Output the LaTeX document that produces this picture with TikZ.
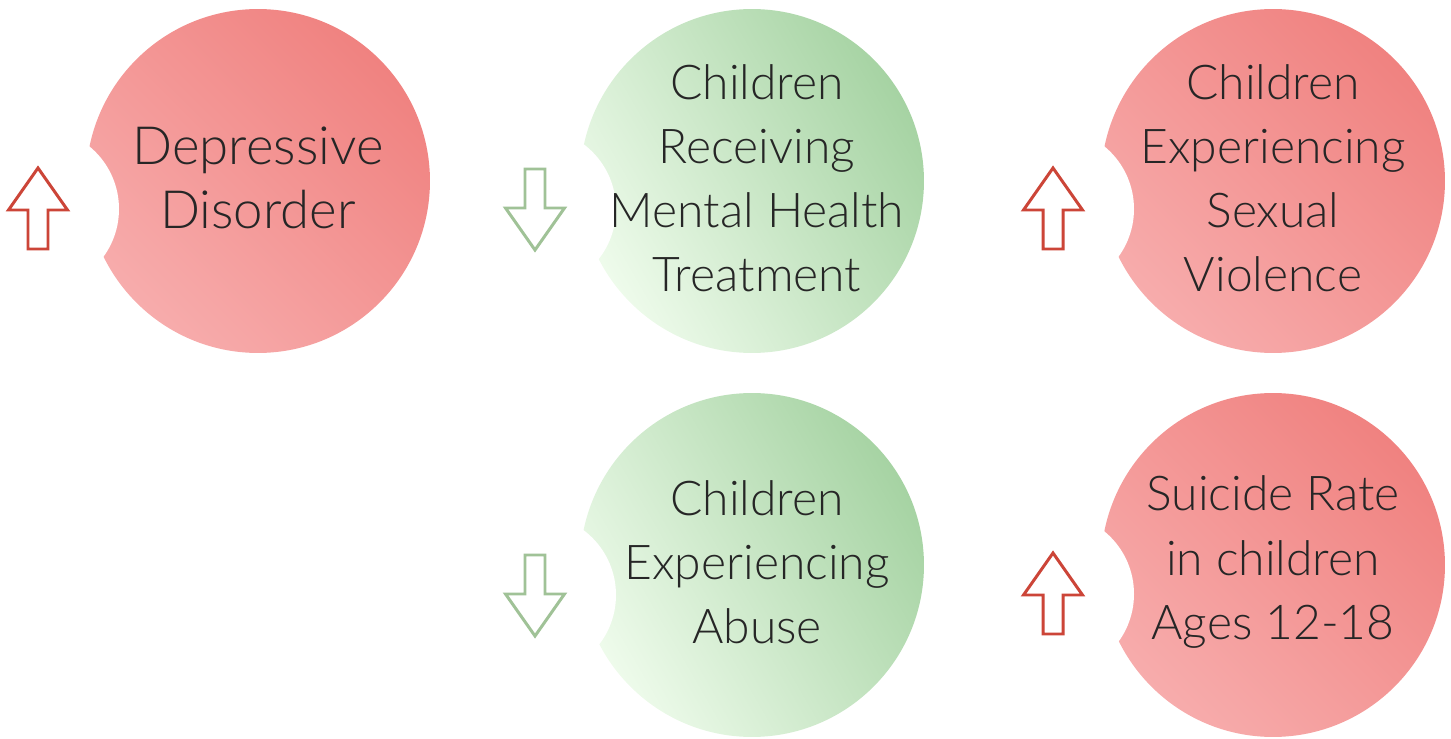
\documentclass[tikz,border=0pt]{standalone}
\usepackage{fontspec}
\setmainfont{Lato}[UprightFont=* Light]
\usetikzlibrary{calc}
\definecolor{BlobRedDark}{HTML}{F08280}
\definecolor{BlobRedLight}{HTML}{F7ACAC}
\definecolor{BlobGreenDark}{HTML}{A6D3A3}
\definecolor{BlobGreenLight}{HTML}{EEFBEB}
\definecolor{ArrowRed}{HTML}{CC4538}
\definecolor{ArrowGreen}{HTML}{A0C297}
\definecolor{TextGray}{HTML}{262626}

\begin{document}
\begin{tikzpicture}[
    x=0.02cm, y=0.02cm,
    blob/.style={
      circle,
      minimum size=6.88cm,
      inner sep=0pt
    },
    redblob/.style={
      blob,
      top color=BlobRedDark,
      bottom color=BlobRedLight,
      shading angle=-45
    },
    greenblob/.style={
      blob,
      top color=BlobGreenDark,
      bottom color=BlobGreenLight,
      shading angle=-60
    },
    blobtext/.style={
      align=center,
      inner sep=0pt,
      text=TextGray,
      font=\fontsize{27.3}{36.5}\selectfont
    },
    bigtext/.style={
      blobtext,
      font=\fontsize{30}{36.5}\selectfont
    },
    notch/.style={fill=white},
    fatarrow/.pic={
      \draw[pic actions, line width=1.7pt, line join=miter]
        (0,41) -- (29.5,-1) -- (10,-1) -- (10,-40) -- (-10,-40)
        -- (-10,-1) -- (-29.5,-1) -- cycle;
    }
  ]
  \useasboundingbox (0,0) rectangle (1451,738);

  % Top row
  \node[redblob] (dep) at (258,557) {};
  \node[greenblob] (treat) at (752,557) {};
  \node[redblob] (sexv) at (1273,557) {};

  % Bottom row
  \node[greenblob] (abuse) at (752,173) {};
  \node[redblob] (suic) at (1273,173) {};

  % Notches
  \coordinate (depn) at ($(dep)+(-220,-28)$);
  \coordinate (treatn) at ($(treat)+(-217,-28)$);
  \coordinate (sexvn) at ($(sexv)+(-220,-28)$);
  \coordinate (abusen) at ($(abuse)+(-217,-30)$);
  \coordinate (suicn) at ($(suic)+(-220,-29)$);

  \foreach \n in {depn,treatn,sexvn,abusen,suicn}
    \fill[notch] (\n) circle[radius=81];

  % Labels
  \node[bigtext] (dept) at ($(dep)+(0,3)$) {Depressive\\Disorder};
  \node[blobtext] (treatt) at ($(treat)+(5,3)$) {Children\\Receiving\\Mental Health\\Treatment};
  \node[blobtext] (sexvt) at ($(sexv)+(0,3)$) {Children\\Experiencing\\Sexual\\Violence};
  \node[blobtext] (abuset) at ($(abuse)+(5,3)$) {Children\\Experiencing\\Abuse};
  \node[blobtext] (suict) at ($(suic)+(0,3)$) {Suicide Rate\\in children\\Ages 12-18};

  % Trend arrows
  \pic[draw=ArrowRed] at (depn) {fatarrow};
  \pic[draw=ArrowGreen, rotate=180] at (treatn) {fatarrow};
  \pic[draw=ArrowRed] at (sexvn) {fatarrow};
  \pic[draw=ArrowGreen, rotate=180] at (abusen) {fatarrow};
  \pic[draw=ArrowRed] at (suicn) {fatarrow};

\end{tikzpicture}
\end{document}
